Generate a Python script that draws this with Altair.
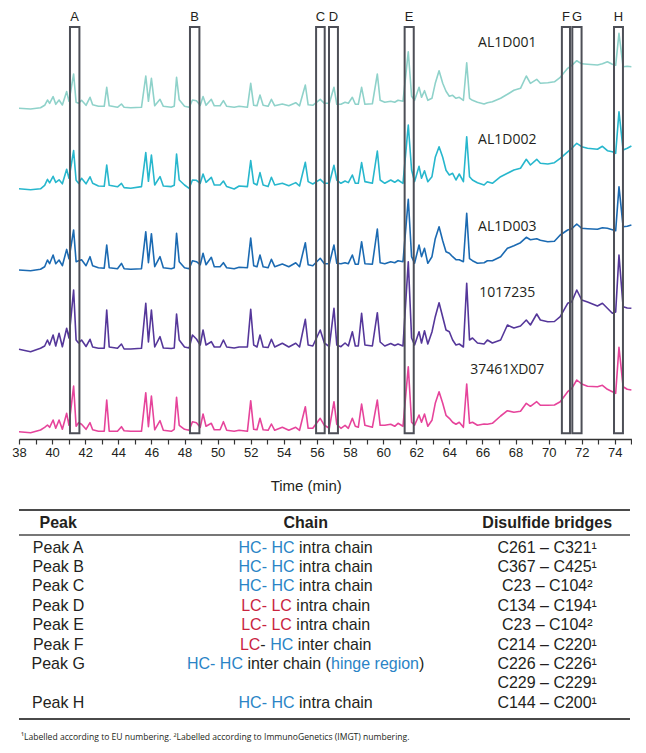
import altair as alt
import pandas as pd

# ---------------- data ----------------
samples = ["AL1D001", "AL1D002", "AL1D003", "1017235", "37461XD07"]
colors = ["#8fd2ca", "#27b7cd", "#1b6ab2", "#55379a", "#e6449b"]

time_min = [
    38.00, 38.70, 39.30, 39.55, 39.72, 39.85, 40.06, 40.22, 40.42, 40.62,
    40.88, 41.02, 41.30, 41.45, 41.60, 41.78, 42.05, 42.29, 42.45, 42.80,
    43.15, 43.30, 43.45, 43.95, 44.19, 44.35, 44.75, 45.40, 45.66, 45.82,
    46.00, 46.20, 46.52, 46.72, 47.20, 47.38, 47.52, 47.68, 48.00, 48.28,
    48.48, 48.72, 48.95, 49.12, 49.30, 49.62, 49.80, 50.15, 50.35, 50.55,
    51.00, 51.30, 51.80, 52.00, 52.18, 52.38, 52.56, 52.75, 53.05, 53.25,
    53.45, 53.91, 54.30, 54.72, 54.95, 55.30, 55.47, 55.75, 56.20, 56.45,
    56.75, 57.03, 57.20, 57.45, 57.70, 57.90, 58.14, 58.32, 58.50, 58.70,
    58.90, 59.35, 59.65, 59.82, 60.10, 60.46, 60.70, 60.90, 61.20, 61.52,
    61.72, 61.90, 62.17, 62.32, 62.50, 62.70, 62.95, 63.15, 63.38, 63.60,
    63.80, 64.00, 64.20, 64.40, 64.60, 64.85, 65.05, 65.22, 65.40, 65.70,
    66.10, 66.30, 66.60, 67.10, 67.51, 67.90, 68.30, 68.65, 68.90, 69.28,
    69.50, 69.95, 70.35, 70.70, 71.15, 71.40, 71.70, 72.00, 72.35, 72.95,
    73.25, 73.55, 73.85, 74.05, 74.25, 74.50, 74.75, 75.00,
]

al1d001 = [
    0, -0.7, 0.5, 3, 8.3, 5, 11.7, 4, 8.3, 3.3,
    16.7, 7, 34.3, 6, 5, 8, 3, 11, 3.5, 2,
    2, 21, 2.5, 1, 4.3, 1, 0.5, 1, 32.3, 7,
    30, 2.5, 9, 2, 1, 2, 31, 8.5, 2, 1,
    8.3, 7.5, 3, 11.7, 3, 9, 2.5, 2.5, 7.7, 2,
    1, 2, 1, 25, 3, 2.5, 13.3, 3, 2, 9,
    2.5, 4.3, 2.5, 5.6, 2.5, 23.3, 3.5, 3, 9, 5,
    5, 21, 4, 4, 6, 5, 11, 4, 4, 21,
    4, 4.5, 34.3, 8, 6, 7, 6, 8, 7, 56.6,
    12, 8, 21, 11, 17.6, 8, 10, 25, 37.6, 25,
    17, 12, 13, 10, 11, 8, 45.6, 10, 8, 6,
    4.3, 5.5, 6.5, 10, 14, 18, 20, 32.3, 25, 29,
    25, 25.5, 26.5, 31, 40, 43, 47.6, 44.5, 44, 43.3,
    44.5, 46.6, 44, 43, 75, 41.5, 42, 41.6,
]

al1d002 = [
    0.5, -0.5, 0.5, 4, 10, 6.5, 13, 7, 9.5, 5.5,
    20, 11, 38.7, 9, 6, 11, 5.5, 12.5, 6, 3.3,
    3, 24.3, 4, 2.5, 6, 1.7, 1, 2.7, 36.7, 8,
    34.3, 4.3, 12.7, 3.3, 2.7, 4, 35.3, 9.3, 4.3, 1,
    9.3, 9, 6, 15.3, 7, 12, 4.3, 4.3, 8.3, 2.7,
    0.3, 3.3, 2.7, 28.7, 6, 4.3, 16.7, 4.3, 2.7, 12,
    4.3, 6, 3.5, 6.7, 3.3, 27, 7.7, 5.3, 10, 6,
    6, 24, 9.3, 6, 8.3, 6.7, 14.3, 6, 6, 26.7,
    7.7, 6, 38.3, 9.3, 6, 9.3, 7, 9.3, 6, 64.3,
    19.3, 7.7, 23, 11, 18.6, 7.6, 12.6, 32, 42.6, 32,
    19, 14.3, 16, 9.3, 15.3, 7.6, 52.6, 12.6, 9.3, 6.6,
    4.3, 7.6, 6, 12.6, 16, 19.3, 21, 30, 24.3, 30,
    26, 25.3, 26.6, 31, 37.5, 41, 46, 42.6, 41, 40,
    43, 38.6, 37.6, 36, 77.6, 39.3, 41, 43.3,
]

al1d003 = [
    0.7, 0, 1.5, 4, 10.7, 7, 15.7, 7, 10.7, 5,
    21.3, 12, 40.7, 9, 10, 11, 5, 14, 5, 3,
    2.5, 25.7, 3, 2, 7.3, 2, 1.5, 2, 39, 8,
    37, 4, 14, 3, 2, 3, 37.4, 9, 3, 2,
    10, 9, 6, 17.4, 6, 13.4, 4, 4, 8, 3,
    2, 3.5, 3, 32.7, 5, 4, 15.7, 4, 3, 11.4,
    4, 6.7, 4, 8, 4, 28, 6, 5, 12.4, 7,
    7, 25.7, 7.4, 7, 8, 7, 15.7, 6.5, 6.5, 29,
    7, 6.5, 41.7, 8, 7, 9, 8, 10, 9, 71.4,
    14, 7.5, 25.7, 14, 22.4, 7.4, 14, 32, 44, 30,
    19, 17.4, 14, 11, 11, 9, 57.4, 12, 10, 7.4,
    8, 10, 10, 14, 22.4, 25, 28, 33.4, 31, 32,
    30.5, 29, 29.5, 35.7, 40.7, 42, 46.7, 42.4, 42, 41.4,
    43, 42.4, 41, 40, 84, 44, 44.5, 45.7,
]

s1017235 = [
    0.7, -1.7, 1.7, 4, 10, 5, 15, 4, 16.7, 3.3,
    21.7, 12, 60, 10, 7, 10, 3.5, 10.7, 3, 1.7,
    1.7, 40, 3, 1.7, 6, 1, 1, 1.7, 46.7, 8,
    40, 3, 13.3, 2, 1.5, 2, 36, 10, 3, 2,
    15, 11, 5, 20, 5, 8.3, 3, 3, 10, 3,
    2, 3, 3, 40.7, 5, 3, 15, 3, 2.5, 10.7,
    3, 6.7, 3, 6.7, 3, 30.7, 5, 4, 20, 7,
    3.3, 41.7, 5, 3.3, 7, 4, 18.3, 4, 4, 36.7,
    5, 4, 37.3, 8, 4, 6.5, 4.5, 6, 4, 88.3,
    12, 5, 18.3, 7, 19.3, 6, 18, 33.3, 47.3, 33,
    20, 18.3, 10, 5, 6, 3, 66.7, 10, 12, 7,
    6, 10, 7, 10, 25, 22, 24, 30, 25, 36,
    30, 28.3, 28.5, 33.3, 46.7, 48.3, 60, 50, 48, 44,
    46.7, 41.7, 36.7, 38, 95, 43.3, 42, 41.7,
]

s37461xd07 = [
    0.6, -0.5, 2.3, 5, 7.3, 5, 12.3, 4, 12.3, 3,
    19, 7, 46.3, 6, 9.6, 8, 3, 9.6, 2.5, 1,
    1, 32.3, 1, 1, 5.6, 1.5, 1, 1, 39.6, 5.6,
    36.3, 2.5, 11.6, 2, 1, 3, 35, 7, 3, 2,
    10.6, 9.6, 5, 18.3, 6, 9, 2.5, 2.5, 10.6, 2,
    1, 2, 1, 31.6, 3, 2.5, 14, 2.5, 2, 8.3,
    2, 5, 2, 5, 2, 25.6, 4, 4, 14, 7,
    4, 30.6, 8, 4, 7, 4, 14, 6, 5, 28.3,
    7, 5, 32.3, 7, 7, 8, 6, 9, 6, 65.6,
    10, 7, 17.3, 10, 18.3, 6, 12, 29, 40.6, 29,
    17, 14, 10, 8, 10, 5, 48.3, 9, 10, 7,
    8.3, 8, 9, 16.3, 21.6, 20, 21, 29, 26, 30.6,
    27, 27, 27.3, 30.6, 40.6, 44, 52.3, 48.3, 46, 45.6,
    47, 43, 40.6, 39, 85, 45.6, 43, 42.3,
]

peak_letters = ["A", "B", "C", "D", "E", "F", "G", "H"]
peak_start = [41.08, 48.33, 55.95, 56.73, 61.30, 70.80, 71.43, 73.95]
peak_end = [41.65, 48.90, 56.47, 57.27, 61.85, 71.29, 71.99, 74.49]

table_headers = ["Peak", "Chain", "Disulfide bridges"]
table_peaks = ["Peak A", "Peak B", "Peak C", "Peak D", "Peak E",
               "Peak F", "Peak G", "", "Peak H"]
table_chain = [
    [("HC- HC", "HC"), (" intra chain", "txt")],
    [("HC- HC", "HC"), (" intra chain", "txt")],
    [("HC- HC", "HC"), (" intra chain", "txt")],
    [("LC- LC", "LC"), (" intra chain", "txt")],
    [("LC- LC", "LC"), (" intra chain", "txt")],
    [("LC", "LC"), ("- ", "txt"), ("HC", "HC"), (" inter chain", "txt")],
    [("HC- HC", "HC"), (" inter chain (", "txt"), ("hinge region", "HC"), (")", "txt")],
    [],
    [("HC- HC", "HC"), (" intra chain", "txt")],
]
table_bridges = ["C261 – C321¹", "C367 – C425¹", "C23 – C104²", "C134 – C194¹",
                 "C23 – C104²", "C214 – C220¹", "C226 – C226¹", "C229 – C229¹",
                 "C144 – C200¹"]
footnote = ("¹Labelled according to EU numbering. "
            "²Labelled according to ImmunoGenetics (IMGT) numbering.")

# ---------------- layout constants ----------------
PLOT_W = 612.4
PLOT_H = 429
offsets = [330.7, 249.7, 168.3, 89.0, 6.7]
label_y = [396, 299, 212.3, 145.7, 69]
LABEL_T = 67.5
BOX_BOTTOM, BOX_TOP, LETTER_Y = 5.7, 412, 422

TXT = "#231f20"
palette = {"HC": "#2a84c6", "LC": "#c9243f", "txt": TXT}

# ---------------- chromatograms ----------------
series = [al1d001, al1d002, al1d003, s1017235, s37461xd07]
rows = []
for i, (s, off, vals) in enumerate(zip(samples, offsets, series)):
    for t, v in zip(time_min, vals):
        rows.append({"sample": s, "time": t, "signal": off + v})
traces = pd.DataFrame(rows)

boxes = pd.DataFrame({"letter": peak_letters, "start": peak_start, "end": peak_end})
boxes["bottom"] = BOX_BOTTOM
boxes["top"] = BOX_TOP
boxes["center"] = (boxes["start"] + boxes["end"]) / 2
boxes["ly"] = LETTER_Y

labels = pd.DataFrame({"sample": samples, "time": LABEL_T, "y": label_y})

xscale = alt.Scale(domain=[38, 75], nice=False, zero=False)
yscale = alt.Scale(domain=[0, PLOT_H], nice=False, zero=False)
xaxis = alt.Axis(
    values=list(range(38, 76)),
    labelExpr="datum.value % 2 == 0 ? datum.label : ''",
    grid=False, tickSize=5, tickWidth=1.2, tickColor="#333333",
    domainColor="#333333", domainWidth=1.6,
    labelFont="Liberation Sans", labelFontSize=13, labelColor=TXT,
    labelPadding=3, labelFlush=False,
    title="Time (min)", titleFont="Liberation Sans", titleFontSize=15,
    titleFontWeight="normal", titleColor=TXT,
    titleX=286.7, titleY=47, titleBaseline="middle", titleAlign="center",
)

lines = alt.Chart(traces).mark_line(strokeWidth=1.6, strokeJoin="round").encode(
    x=alt.X("time:Q", scale=xscale, axis=xaxis),
    y=alt.Y("signal:Q", scale=yscale, axis=None),
    color=alt.Color("sample:N", scale=alt.Scale(domain=samples, range=colors), legend=None),
    detail="sample:N",
)

rects = alt.Chart(boxes).mark_rect(fillOpacity=0, stroke="#4d4f57", strokeWidth=2).encode(
    x=alt.X("start:Q", scale=xscale, axis=xaxis),
    x2="end:Q",
    y=alt.Y("bottom:Q", scale=yscale, axis=None),
    y2="top:Q",
)

letters = alt.Chart(boxes).mark_text(font="Liberation Sans", fontSize=13, color=TXT).encode(
    x=alt.X("center:Q", scale=xscale, axis=xaxis),
    y=alt.Y("ly:Q", scale=yscale, axis=None),
    text="letter:N",
)

sample_text = alt.Chart(labels).mark_text(font="Open Sans", fontSize=14, color=TXT).encode(
    x=alt.X("time:Q", scale=xscale, axis=xaxis),
    y=alt.Y("y:Q", scale=yscale, axis=None),
    text="sample:N",
)

top = alt.layer(lines, rects, letters, sample_text).properties(width=PLOT_W, height=PLOT_H)

# ---------------- table ----------------
TAB_H = 240
COL_X = [39.2, 286.7, 528.2]
HEADER_Y = 22.7
ROW_Y0, ROW_DY = 47.7, 19.4
row_y = [ROW_Y0 + ROW_DY * k for k in range(len(table_peaks))]

ARIAL = {" ": 278, "(": 333, ")": 333, "-": 333, "C": 722, "H": 722, "L": 556,
         "a": 556, "c": 500, "e": 556, "g": 556, "h": 556, "i": 222, "n": 556,
         "o": 556, "r": 333, "t": 278}


def tw(s, size=16):
    return sum(ARIAL.get(c, 556) for c in s) * size / 1000


seg_rows = []
for k, segs in enumerate(table_chain):
    total = sum(tw(s) for s, _ in segs)
    x = COL_X[1] - total / 2
    for s, kind in segs:
        lead = len(s) - len(s.lstrip(" "))
        seg_rows.append({"x": x + tw(s[:lead]), "y": row_y[k],
                         "text": s.strip(" "), "color": palette[kind]})
        x += tw(s)
segs_df = pd.DataFrame(seg_rows)

center_rows = []
for k, (p, b) in enumerate(zip(table_peaks, table_bridges)):
    if p:
        center_rows.append({"x": COL_X[0], "y": row_y[k], "text": p})
    center_rows.append({"x": COL_X[2], "y": row_y[k], "text": b})
center_df = pd.DataFrame(center_rows)

header_df = pd.DataFrame({"x": COL_X, "y": HEADER_Y, "text": table_headers})
thick_df = pd.DataFrame({"x0": [0, 0], "x1": [611, 611], "y": [10, 219]})
thin_df = pd.DataFrame({"x0": [0], "x1": [611], "y": [35]})
foot_df = pd.DataFrame({"x": [2], "y": [236.7], "text": [footnote]})

tx = alt.Scale(domain=[0, PLOT_W], nice=False, zero=False)
ty = alt.Scale(domain=[TAB_H, 0], nice=False, zero=False)

thick = alt.Chart(thick_df).mark_rule(color="#4a4a4a", strokeWidth=2).encode(
    x=alt.X("x0:Q", scale=tx, axis=None), x2="x1:Q",
    y=alt.Y("y:Q", scale=ty, axis=None))
thin = alt.Chart(thin_df).mark_rule(color="#4a4a4a", strokeWidth=1.3).encode(
    x=alt.X("x0:Q", scale=tx, axis=None), x2="x1:Q",
    y=alt.Y("y:Q", scale=ty, axis=None))
headers = alt.Chart(header_df).mark_text(
    font="Liberation Sans", fontSize=16, fontWeight="bold", color=TXT).encode(
    x=alt.X("x:Q", scale=tx, axis=None), y=alt.Y("y:Q", scale=ty, axis=None),
    text="text:N")
body = alt.Chart(center_df).mark_text(
    font="Liberation Sans", fontSize=16, color=TXT).encode(
    x=alt.X("x:Q", scale=tx, axis=None), y=alt.Y("y:Q", scale=ty, axis=None),
    text="text:N")
chain = alt.Chart(segs_df).mark_text(
    font="Liberation Sans", fontSize=16, align="left").encode(
    x=alt.X("x:Q", scale=tx, axis=None), y=alt.Y("y:Q", scale=ty, axis=None),
    text="text:N", color=alt.Color("color:N", scale=None))
foot = alt.Chart(foot_df).mark_text(
    font="Open Sans", fontSize=8.6, align="left", color=TXT).encode(
    x=alt.X("x:Q", scale=tx, axis=None), y=alt.Y("y:Q", scale=ty, axis=None),
    text="text:N")

table = alt.layer(thick, thin, headers, body, chain, foot).properties(
    width=PLOT_W, height=TAB_H)

chart = alt.vconcat(top, table, spacing=61, bounds="flush").properties(
    padding={"left": 3, "top": 2, "right": 0, "bottom": 0},
    background="white",
).configure_view(stroke=None)

chart.save("out.html", embed_options={"renderer": "svg", "actions": False})
